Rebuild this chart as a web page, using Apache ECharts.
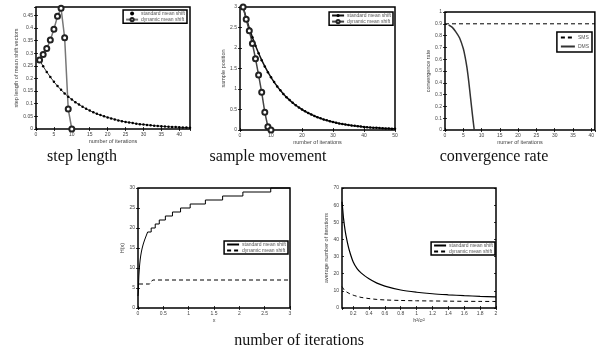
<!DOCTYPE html>
<html>
<head>
<meta charset="utf-8">
<script src="https://cdn.jsdelivr.net/npm/echarts@6.0.0/dist/echarts.min.js"></script>
<style>
  html, body { margin: 0; padding: 0; background: #fff; }
  #main { width: 597px; height: 355px; }
</style>
</head>
<body>
<div id="main"></div>
<script>
// step length: value per iteration (iteration = index + 1)
const stepSMS = [0.273, 0.248, 0.226, 0.206, 0.187, 0.170, 0.155, 0.141, 0.128, 0.117, 0.106, 0.097, 0.088, 0.080, 0.073,
  0.066, 0.060, 0.055, 0.050, 0.046, 0.042, 0.038, 0.034, 0.031, 0.028, 0.026, 0.024, 0.021, 0.019, 0.018, 0.016,
  0.015, 0.013, 0.012, 0.011, 0.010, 0.009, 0.008, 0.008, 0.007, 0.006, 0.006, 0.005]
const stepDMS = [0.273, 0.295, 0.319, 0.352, 0.395, 0.446, 0.478, 0.361, 0.079, 0]

// sample movement
const moveSMS = [3.000, 2.730, 2.484, 2.261, 2.057, 1.872, 1.704, 1.550, 1.411, 1.284, 1.168, 1.063, 0.967, 0.880,
  0.801, 0.729, 0.663, 0.604, 0.549, 0.500, 0.455, 0.414, 0.377, 0.343, 0.312, 0.284, 0.258, 0.235, 0.214, 0.195,
  0.177, 0.161, 0.147, 0.134, 0.122, 0.111, 0.101, 0.092, 0.083, 0.076, 0.069, 0.063, 0.057, 0.052, 0.047, 0.043,
  0.039, 0.036, 0.033, 0.030]
const moveDMS = [3, 2.7, 2.42, 2.11, 1.74, 1.34, 0.92, 0.43, 0.08, 0]

// convergence rate
const rateSMSX = [0, 41]
const rateSMS = [0.9, 0.9]
const rateDMSX = [1, 2, 3, 4, 5, 5.5, 6, 6.5, 7, 7.5, 8]
const rateDMS = [0.89, 0.87, 0.83, 0.78, 0.69, 0.62, 0.53, 0.41, 0.27, 0.13, 0]

// H(x)
const hStdX = [0, 0.007, 0.009, 0.011, 0.014, 0.017, 0.022, 0.027, 0.034, 0.042, 0.053, 0.066, 0.083, 0.104, 0.13,
  0.16, 0.19, 0.26, 0.34, 0.42, 0.54, 0.68, 0.84, 1.03, 1.33, 1.67, 2.07, 2.62, 3]
const hStd = [3, 4, 5, 6, 7, 8, 9, 10, 11, 12, 13, 14, 15, 16, 17, 18, 19, 20, 21, 22, 23, 24, 25, 26, 27, 28, 29, 30, 30]
const hDynX = [0.02, 0.23, 0.29, 3]
const hDyn = [6, 6, 7, 7]

// average number of iterations vs h^2/sigma^2
const ratioX = [0.06, 0.07, 0.08, 0.1, 0.12, 0.15, 0.2, 0.25, 0.3, 0.4, 0.5, 0.6, 0.8, 1.0, 1.2, 1.4, 1.6, 1.8, 2.0]
const avgSMS = [62, 57, 52, 45, 40, 34, 27, 23, 20.5, 17, 14.5, 12.8, 10.5, 9.2, 8.3, 7.7, 7.2, 6.8, 6.5]
const avgDMS = [12.5, 11.8, 11, 10, 9.3, 8.5, 7.5, 6.8, 6.2, 5.5, 5.0, 4.7, 4.4, 4.2, 4.1, 4.0, 3.9, 3.85, 3.8]

const captions = ['step length', 'sample movement', 'convergence rate', 'number of iterations']

const pair = (xs, ys) => ys.map((v, i) => [xs[i], v])
const byIter = ys => ys.map((v, i) => [i + 1, v])

const grids = [
  { left: 36, top: 7, width: 154, height: 122 },
  { left: 240, top: 7, width: 155, height: 123 },
  { left: 445, top: 12, width: 150, height: 118 },
  { left: 138, top: 188, width: 152, height: 120 },
  { left: 342, top: 188, width: 154, height: 120 }
]
grids.forEach(g => { g.show = true; g.borderColor = '#000'; g.borderWidth = 1.5 })

const xAxes = []
const yAxes = []
const tick = { inside: true, length: 2, lineStyle: { color: '#000', width: 0.8 } }
const nameStyle = { fontSize: 5.5, color: '#444' }

function boxAxes (gi, x, y) {
  const base = { type: 'value', gridIndex: gi, axisLine: { show: false }, axisTick: tick, splitLine: { show: false } }
  const xs = { min: x.min, max: x.max, interval: x.interval, splitNumber: x.splitNumber }
  const ys = { min: y.min, max: y.max, interval: y.interval }
  xAxes.push(Object.assign({}, base, xs, {
    position: 'bottom',
    name: x.name,
    nameLocation: 'middle',
    nameGap: 9,
    nameTextStyle: nameStyle,
    axisLabel: { fontSize: 5, color: '#444', margin: 3, showMaxLabel: x.showMax, showMinLabel: x.showMin }
  }))
  xAxes.push(Object.assign({}, base, xs, { position: 'top', axisLabel: { show: false } }))
  yAxes.push(Object.assign({}, base, ys, {
    position: 'left',
    name: y.name,
    nameLocation: 'middle',
    nameGap: y.gap,
    nameTextStyle: nameStyle,
    axisLabel: { fontSize: 5, color: '#444', margin: 3, showMaxLabel: y.showMax }
  }))
  yAxes.push(Object.assign({}, base, ys, { position: 'right', axisLabel: { show: false } }))
}

boxAxes(0, { min: 0, max: 43, interval: 5, name: 'number of iterations', showMax: false },
  { min: 0, max: 0.483, interval: 0.05, name: 'step length of mean shift vectors', gap: 15, showMax: false })
boxAxes(1, { min: 0, max: 50, interval: 10, name: 'number of iterations' },
  { min: 0, max: 3, interval: 0.5, name: 'sample position', gap: 12 })
boxAxes(2, { min: 0, max: 41, interval: 5, name: 'numer of iterations', showMax: false },
  { min: 0, max: 1, interval: 0.1, name: 'convergence rate', gap: 12 })
boxAxes(3, { min: 0, max: 3, interval: 0.5, name: 'x' },
  { min: 0, max: 30, interval: 5, name: 'H(x)', gap: 11 })
boxAxes(4, { min: 0.06, max: 2, splitNumber: 10, name: 'h\u00b2/\u03c3\u00b2', showMin: false },
  { min: 0, max: 70, interval: 10, name: 'average number of iterations', gap: 12 })

function line (gi, name, data, opts) {
  return Object.assign({
    type: 'line',
    name: name,
    xAxisIndex: gi * 2,
    yAxisIndex: gi * 2,
    data: data,
    symbol: 'none',
    clip: false,
    itemStyle: { color: '#000' },
    lineStyle: { color: '#000', width: 1 }
  }, opts)
}

const dotMarks = { symbol: 'circle', symbolSize: 2.5, showSymbol: true }
const ringMarks = { symbol: 'emptyCircle', symbolSize: 5, showSymbol: true, itemStyle: { color: '#222', borderWidth: 1 } }

const series = [
  line(0, 'standard mean shift|a', byIter(stepSMS), Object.assign({}, dotMarks, { lineStyle: { color: '#000', width: 0.8 } })),
  line(0, 'dynamic mean shift|a', byIter(stepDMS), Object.assign({}, ringMarks, { lineStyle: { color: '#777', width: 1.5 } })),
  line(1, 'standard mean shift|b', byIter(moveSMS), Object.assign({}, dotMarks, { lineStyle: { color: '#111', width: 1.5 } })),
  line(1, 'dynamic mean shift|b', byIter(moveDMS), Object.assign({}, ringMarks, { lineStyle: { color: '#444', width: 1.5 } })),
  line(2, 'SMS', pair(rateSMSX, rateSMS), { lineStyle: { color: '#000', width: 1, type: [4, 3] } }),
  line(2, 'DMS', pair(rateDMSX, rateDMS), { smooth: 0.3, itemStyle: { color: '#333' }, lineStyle: { color: '#333', width: 1.5 } }),
  line(3, 'standard mean shift|d', pair(hStdX, hStd), { step: 'end', lineStyle: { color: '#000', width: 1 } }),
  line(3, 'dynamic mean shift|d', pair(hDynX, hDyn), { lineStyle: { color: '#000', width: 1, type: [4, 3] } }),
  line(4, 'standard mean shift|e', pair(ratioX, avgSMS), { smooth: 0.3, lineStyle: { color: '#000', width: 1.2 } }),
  line(4, 'dynamic mean shift|e', pair(ratioX, avgDMS), { smooth: 0.3, lineStyle: { color: '#000', width: 1, type: [4, 3] } })
]

const legendBase = {
  orient: 'vertical',
  selectedMode: false,
  backgroundColor: '#fff',
  borderColor: '#000',
  borderWidth: 1.5,
  borderRadius: 0,
  padding: [1, 2],
  itemGap: 1,
  itemWidth: 12,
  itemHeight: 4,
  formatter: n => n.split('|')[0],
  textStyle: { fontSize: 5, color: '#555', padding: [0, 0, 0, -2] }
}

// line-only legend entries: hide the symbol the line icon carries
const plain = name => ({ name: name, itemStyle: { opacity: 0 } })

const legends = [
  { right: 410, top: 10, data: [{ name: 'standard mean shift|a', icon: 'circle' }, 'dynamic mean shift|a'] },
  { right: 204, top: 12, data: ['standard mean shift|b', 'dynamic mean shift|b'] },
  { right: 5, top: 32, padding: [3, 3], itemGap: 4, itemWidth: 14, data: [plain('SMS'), plain('DMS')] },
  { right: 309, top: 241, data: [plain('standard mean shift|d'), plain('dynamic mean shift|d')] },
  { right: 102, top: 242, data: [plain('standard mean shift|e'), plain('dynamic mean shift|e')] }
].map(l => Object.assign({}, legendBase, l))

const capPos = [[82, 157], [268, 157], [494, 157], [299, 341]]
const graphic = captions.map((t, i) => ({
  type: 'text',
  x: capPos[i][0],
  y: capPos[i][1],
  style: { text: t, textAlign: 'center', textVerticalAlign: 'middle', font: '16px "Liberation Serif"', fill: '#111' }
}))

const chart = echarts.init(document.getElementById('main'))
chart.setOption({
  animation: false,
  textStyle: { fontFamily: 'Liberation Sans' },
  grid: grids,
  xAxis: xAxes,
  yAxis: yAxes,
  legend: legends,
  series: series,
  graphic: graphic
})
</script>
</body>
</html>
